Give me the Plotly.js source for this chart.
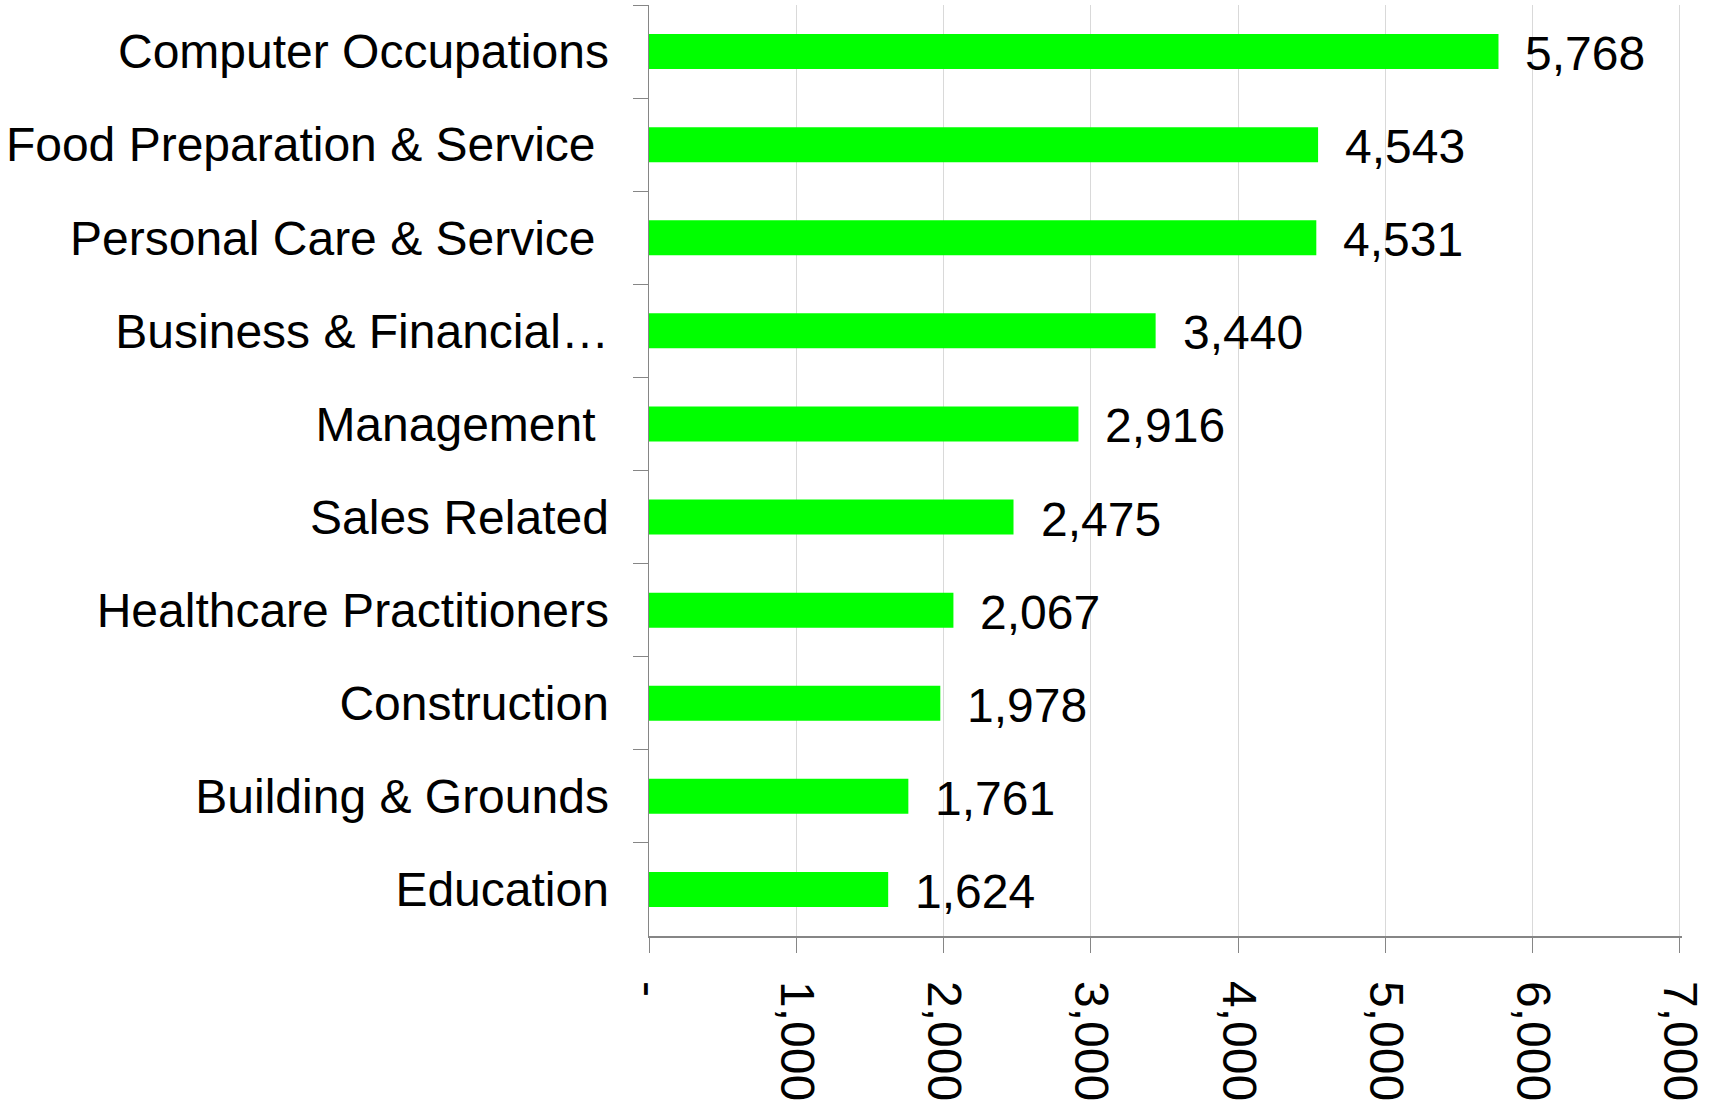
<!DOCTYPE html>
<html>
<head>
<meta charset="utf-8">
<script src="https://cdn.plot.ly/plotly-3.0.1.min.js"></script>
<style>html,body{margin:0;padding:0;background:#fff;}#chart{width:1710px;height:1104px;}</style>
</head>
<body>
<div id="chart"></div>
<script>
const categories = [
  "Computer Occupations",
  "Food Preparation & Service\u00a0",
  "Personal Care & Service\u00a0",
  "Business & Financial\u2026",
  "Management\u00a0",
  "Sales Related",
  "Healthcare Practitioners",
  "Construction",
  "Building & Grounds",
  "Education"
];
const values = [5768, 4543, 4531, 3440, 2916, 2475, 2067, 1978, 1761, 1624];
const xTickVals = [0, 1000, 2000, 3000, 4000, 5000, 6000, 7000];
const xTickText = ["-", "1,000", "2,000", "3,000", "4,000", "5,000", "6,000", "7,000"];

const FONT = "Liberation Sans, Arial, sans-serif";

const trace = {
  type: "bar",
  orientation: "h",
  x: values,
  y: categories,
  marker: {color: "#00ff00", line: {width: 0}},
  hoverinfo: "none"
};

const annotations = values.map((v, i) => ({
  x: v, y: categories[i], xref: "x", yref: "y",
  text: v.toLocaleString("en-US"),
  showarrow: false, xanchor: "left", yanchor: "middle",
  xshift: 25, yshift: -2,
  font: {family: FONT, size: 48, color: "#000"}
}));

const layout = {
  width: 1710, height: 1104,
  margin: {l: 649, r: 28, t: 5, b: 168},
  paper_bgcolor: "#ffffff", plot_bgcolor: "#ffffff",
  showlegend: false,
  bargap: 0.624,
  font: {family: FONT, size: 48, color: "#000"},
  xaxis: {
    range: [0, 7014],
    tickvals: xTickVals, ticktext: xTickText,
    tickangle: 90,
    ticks: "outside", ticklen: 15, tickcolor: "#868686", tickwidth: 1,
    ticklabelstandoff: 19,
    ticklabeloverflow: "allow",
    showgrid: true, gridcolor: "#d9d9d9", gridwidth: 1,
    zeroline: false,
    showline: true, linecolor: "#868686", linewidth: 1.5,
    tickfont: {family: FONT, size: 48, color: "#000"},
    fixedrange: true
  },
  yaxis: {
    type: "category",
    categoryorder: "array", categoryarray: categories,
    autorange: "reversed",
    tickson: "boundaries",
    ticks: "outside", ticklen: 15, tickcolor: "#868686", tickwidth: 1,
    ticklabelstandoff: 29,
    showgrid: false, zeroline: false,
    showline: true, linecolor: "#868686", linewidth: 1.5,
    tickfont: {family: FONT, size: 48, color: "#000"},
    fixedrange: true
  },
  annotations: annotations
};

Plotly.newPlot("chart", [trace], layout, {displayModeBar: false, staticPlot: true});
</script>
</body>
</html>
